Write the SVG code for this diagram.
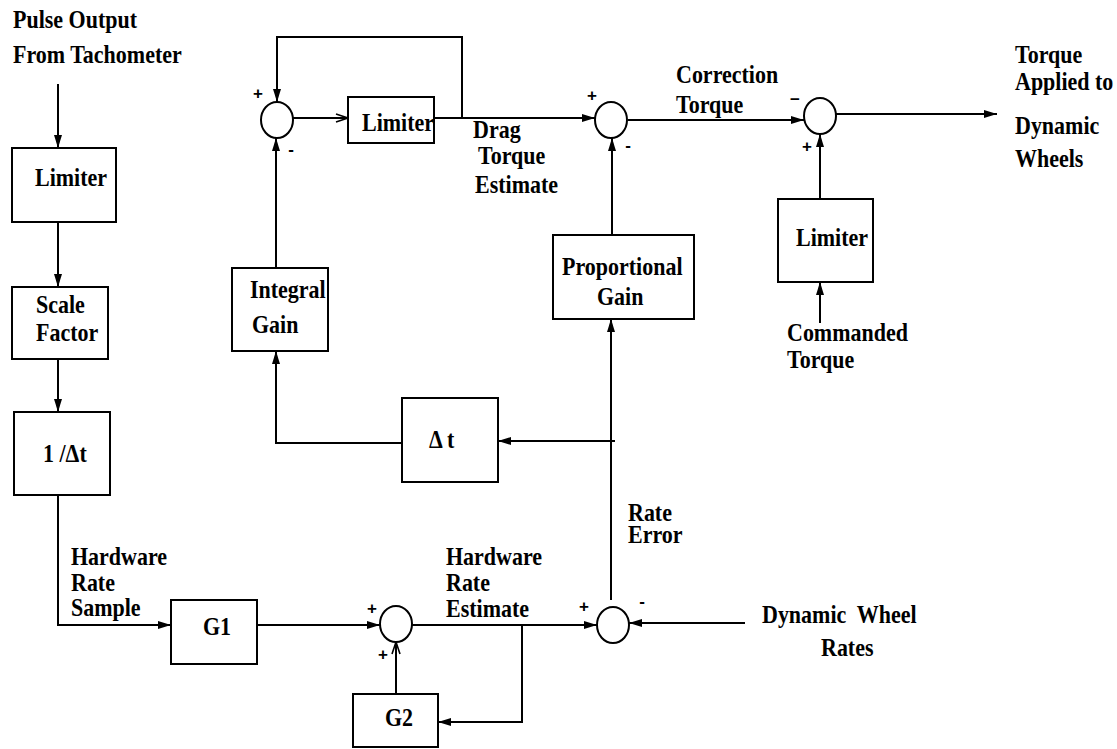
<svg xmlns="http://www.w3.org/2000/svg" width="1117" height="749" viewBox="0 0 1117 749">
<style>
.bg{fill:#fff}
.box{fill:none;stroke:#000;stroke-width:2}
.sum{fill:none;stroke:#000;stroke-width:2}
.ln{fill:none;stroke:#000;stroke-width:2}
.t{font-family:"Liberation Serif","Times New Roman",serif;font-weight:bold;font-size:22px;fill:#000}
.s{font-family:"Liberation Sans",Arial,sans-serif;font-weight:bold;font-size:17px;fill:#000;text-anchor:middle}
</style>
<defs>
<marker id="a" markerUnits="userSpaceOnUse" markerWidth="14" markerHeight="10" refX="13" refY="5" orient="auto"><path d="M0,1 L13,5 L0,9 z" fill="#000"/></marker>
<marker id="o" markerUnits="userSpaceOnUse" markerWidth="14" markerHeight="10" refX="13" refY="5" orient="auto"><path d="M1,1 L13,5 L1,9" fill="none" stroke="#000" stroke-width="1.6"/></marker>
</defs>
<rect class="bg" x="0" y="0" width="1117" height="749"/>

<g id="connectors">
<path class="ln" d="M58,84 V148" marker-end="url(#a)"/>
<path class="ln" d="M58,222 V287" marker-end="url(#a)"/>
<path class="ln" d="M58,359 V412" marker-end="url(#a)"/>
<path class="ln" d="M58,495 V625 H171" marker-end="url(#a)"/>
<path class="ln" d="M257,625 H380" marker-end="url(#a)"/>
<path class="ln" d="M412,625 H597" marker-end="url(#a)"/>
<path class="ln" d="M522,625 V722 H438" marker-end="url(#a)"/>
<path class="ln" d="M396,694 V642" marker-end="url(#o)"/>
<path class="ln" d="M745,623 H629" marker-end="url(#a)"/>
<path class="ln" d="M611,600 V319" marker-end="url(#a)"/>
<path class="ln" d="M615,441 H498" marker-end="url(#a)"/>
<path class="ln" d="M402,443 H276 V351" marker-end="url(#a)"/>
<path class="ln" d="M276,268 V138" marker-end="url(#a)"/>
<path class="ln" d="M293,118 H348" marker-end="url(#o)"/>
<path class="ln" d="M434,118 H595" marker-end="url(#a)"/>
<path class="ln" d="M462,118 V37 H277 V102" marker-end="url(#a)"/>
<path class="ln" d="M612,235 V138" marker-end="url(#a)"/>
<path class="ln" d="M628,120 H804" marker-end="url(#a)"/>
<path class="ln" d="M836,114 H997" marker-end="url(#a)"/>
<path class="ln" d="M820,323 V282" marker-end="url(#a)"/>
<path class="ln" d="M820,199 V134" marker-end="url(#a)"/>
</g>

<g id="input-label">
<text class="t" transform="translate(13,28) scale(1,1.12)">Pulse Output</text>
<text class="t" transform="translate(13,63) scale(1,1.12)">From Tachometer</text>
</g>
<g id="limiter1"><rect class="box" x="12" y="148" width="104" height="74"/><text class="t" transform="translate(35,186) scale(1,1.12)">Limiter</text></g>
<g id="scale-factor"><rect class="box" x="12" y="287" width="96" height="72"/><text class="t" transform="translate(36,313) scale(1,1.12)">Scale</text><text class="t" transform="translate(36,341) scale(1,1.12)">Factor</text></g>
<g id="inv-dt"><rect class="box" x="14" y="412" width="96" height="83"/><text class="t" transform="translate(43,462) scale(1,1.12)">1 /Δt</text></g>
<g id="hw-sample-label"><text class="t" transform="translate(71,565) scale(1,1.12)">Hardware</text><text class="t" transform="translate(71,591) scale(1,1.12)">Rate</text><text class="t" transform="translate(71,616) scale(1,1.12)">Sample</text></g>
<g id="g1"><rect class="box" x="171" y="600" width="86" height="64"/><text class="t" transform="translate(203,635) scale(1,1.12)">G1</text></g>
<g id="sum4"><ellipse class="sum" cx="396" cy="624" rx="16" ry="18"/><text class="s" x="372" y="614">+</text><text class="s" x="383" y="660">+</text></g>
<g id="g2"><rect class="box" x="353" y="694" width="85" height="53"/><text class="t" transform="translate(385,726) scale(1,1.12)">G2</text></g>
<g id="hw-est-label"><text class="t" transform="translate(446,565) scale(1,1.12)">Hardware</text><text class="t" transform="translate(446,591) scale(1,1.12)">Rate</text><text class="t" transform="translate(446,617) scale(1,1.12)">Estimate</text></g>
<g id="sum5"><ellipse class="sum" cx="613" cy="625" rx="16" ry="18"/><text class="s" x="584" y="612">+</text><text class="s" x="642" y="607">-</text></g>
<g id="rate-error-label"><text class="t" transform="translate(628,521) scale(1,1.12)">Rate</text><text class="t" transform="translate(628,543) scale(1,1.12)">Error</text></g>
<g id="wheel-rates-label"><text class="t" transform="translate(762,623) scale(1,1.12)" xml:space="preserve">Dynamic  Wheel</text><text class="t" transform="translate(821,656) scale(1,1.12)">Rates</text></g>
<g id="dt"><rect class="box" x="402" y="398" width="96" height="84"/><text class="t" transform="translate(429,448) scale(1,1.12)">Δ t</text></g>
<g id="integral-gain"><rect class="box" x="232" y="268" width="96" height="83"/><text class="t" transform="translate(250,298) scale(1,1.12)">Integral</text><text class="t" transform="translate(252,333) scale(1,1.12)">Gain</text></g>
<g id="prop-gain"><rect class="box" x="553" y="235" width="141" height="84"/><text class="t" transform="translate(562,275) scale(1,1.12)">Proportional</text><text class="t" transform="translate(597,305) scale(1,1.12)">Gain</text></g>
<g id="sum1"><ellipse class="sum" cx="277" cy="120" rx="16" ry="18"/><text class="s" x="258" y="99">+</text><text class="s" x="291" y="155">-</text></g>
<g id="limiter2"><rect class="box" x="348" y="97" width="86" height="46"/><text class="t" transform="translate(362,131) scale(1,1.12)">Limiter</text></g>
<g id="drag-label"><text class="t" transform="translate(473,138) scale(1,1.12)">Drag</text><text class="t" transform="translate(478,164) scale(1,1.12)">Torque</text><text class="t" transform="translate(475,193) scale(1,1.12)">Estimate</text></g>
<g id="sum2"><ellipse class="sum" cx="611" cy="120" rx="16" ry="18"/><text class="s" x="592" y="101">+</text><text class="s" x="628" y="151">-</text></g>
<g id="correction-label"><text class="t" transform="translate(676,83) scale(1,1.12)">Correction</text><text class="t" transform="translate(676,113) scale(1,1.12)">Torque</text></g>
<g id="sum3"><ellipse class="sum" cx="820" cy="116" rx="16" ry="18"/><text class="s" x="795" y="105">−</text><text class="s" x="807" y="152">+</text></g>
<g id="limiter3"><rect class="box" x="778" y="199" width="95" height="83"/><text class="t" transform="translate(796,246) scale(1,1.12)">Limiter</text></g>
<g id="commanded-label"><text class="t" transform="translate(787,341) scale(1,1.12)">Commanded</text><text class="t" transform="translate(787,368) scale(1,1.12)">Torque</text></g>
<g id="output-label"><text class="t" transform="translate(1015,63) scale(1,1.12)">Torque</text><text class="t" transform="translate(1015,90) scale(1,1.12)">Applied to</text><text class="t" transform="translate(1015,134) scale(1,1.12)">Dynamic</text><text class="t" transform="translate(1015,167) scale(1,1.12)">Wheels</text></g>
</svg>
